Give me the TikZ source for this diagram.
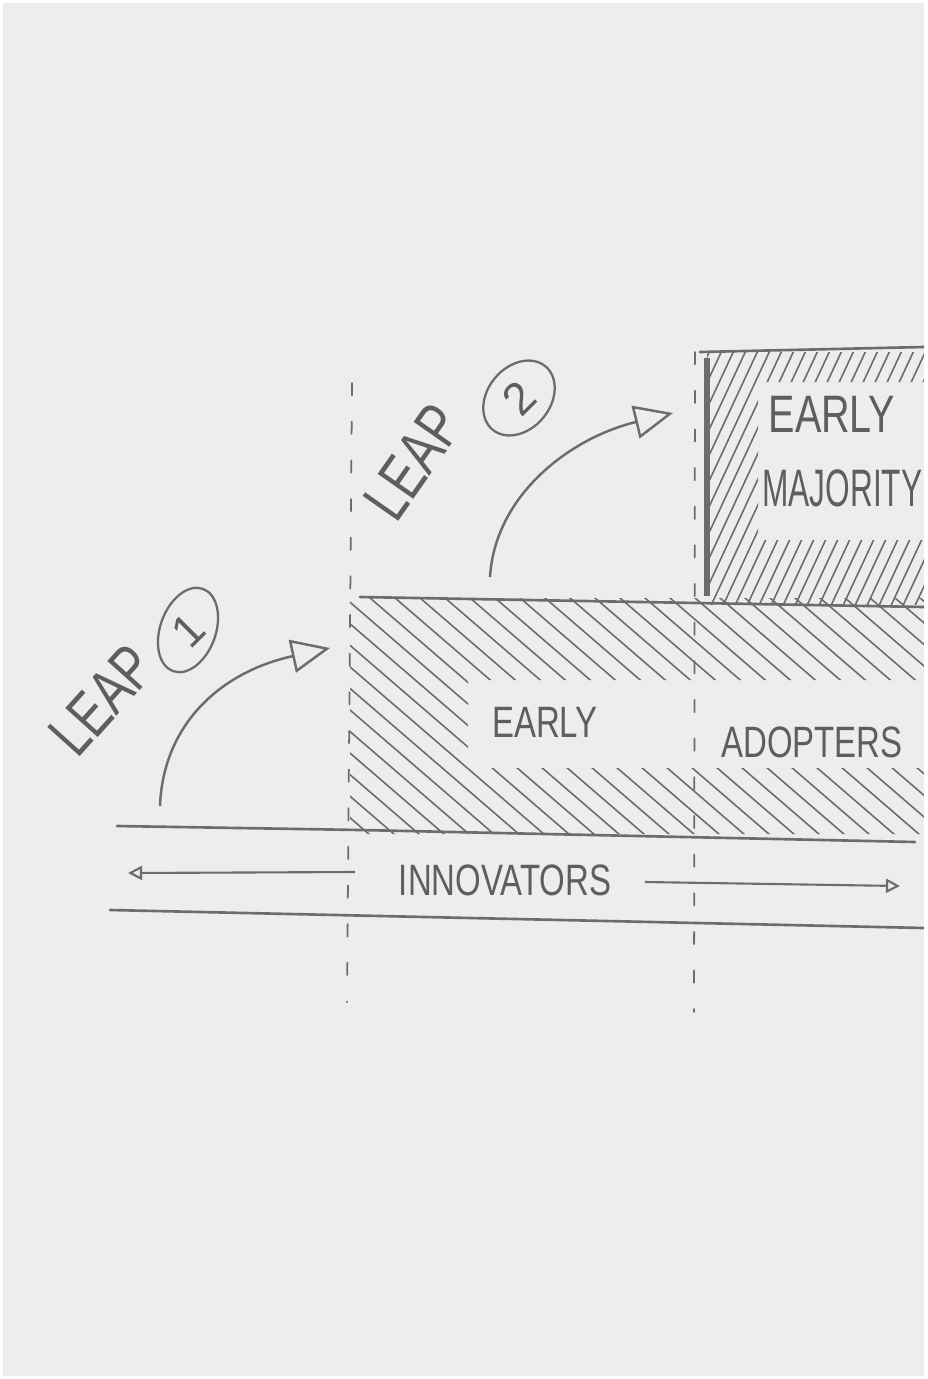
\documentclass[tikz,border=0pt]{standalone}
\usepackage{fontspec}
\setmainfont{Liberation Sans}
\usepackage{graphicx}
\usepackage{tikz}
\usetikzlibrary{arrows.meta,positioning,shapes.geometric}
\definecolor{paper}{HTML}{EDEDED}
\definecolor{pencil}{HTML}{6C6C6C}
\definecolor{ink}{HTML}{5E5E5E}
\newcommand{\hand}[1]{\scalebox{0.75}[1]{#1}}

\begin{document}
\begin{tikzpicture}[
    x=0.02cm, y=-0.02cm,
    line/.style={draw=pencil, line width=1.5pt, line cap=round},
    guide/.style={draw=pencil, line width=1pt, line cap=round, dash pattern=on 7pt off 15pt},
    hatch/.style={draw=pencil, line width=0.9pt, line cap=round},
    leaparr/.style={draw=pencil, line width=1.4pt, -{Triangle[open, length=22pt, width=19pt]}},
    smallarr/.style={draw=pencil, line width=1.2pt, -{Triangle[open, length=8pt, width=8pt]}},
    word/.style={text=ink, inner sep=0pt, font=\fontsize{25}{30}\selectfont},
    bigword/.style={text=ink, inner sep=0pt, font=\fontsize{30}{36}\selectfont},
    leapword/.style={text=ink, inner sep=0pt, font=\fontsize{36}{40}\selectfont},
    ring/.style={draw=pencil, line width=1.3pt, ellipse, inner sep=0pt, text=ink, font=\fontsize{26}{30}\selectfont},
  ]
  \useasboundingbox (0,0) rectangle (927,1379);
  \fill[white] (0,0) rectangle (927,1379);
  \fill[paper] (3,3) rectangle (924,1376);

  \begin{scope}
    \clip (3,3) rectangle (924,1376);

    % hatching of the early adopters band, text area left open
    \begin{scope}
      \clip (350,598) rectangle (924,680) (350,768) rectangle (924,834) (350,598) rectangle (468,834);
      \foreach \i in {-11,...,24}
        \draw[hatch] (330+\i*25,585) -- ++(290,250);
    \end{scope}

    % hatching of the early majority box
    \begin{scope}
      \clip (707,352) rectangle (924,382) (707,540) rectangle (924,605) (707,352) rectangle (758,605);
      \foreach \i in {0,...,29}
        \draw[hatch] (576+\i*12,612) -- ++(125,-268);
    \end{scope}

    % band and scale lines
    \draw[line] (360,597) -- (640,602) -- (924,607);
    \draw[line] (117,826) -- (360,830) -- (915,842);
    \draw[line] (110,910) -- (470,918) -- (924,928);

    % early majority box
    \draw[line] (700,352) -- (924,347);
    \draw[draw=pencil, line width=3pt] (707,358) -- (707,596);

    % dashed dividers
    \coordinate (g1top) at (352,383);
    \coordinate (g1bot) at (347,1002);
    \coordinate (g2top) at (695,352);
    \coordinate (g2bot) at (694,1012);
    \draw[guide] (g1top) -- (g1bot);
    \draw[guide] (g2top) -- (g2bot);

    % texts
    \node[word] (inno) at (505,880) {\hand{INNOVATORS}};
    \node[word] (early) at (545,722) {\hand{EARLY}};
    \node[word] (adopt) at (812,742) {\hand{ADOPTERS}};
    \node[bigword] (earlym) at (832,414) {\hand{EARLY}};
    \node[bigword, anchor=west] (major) at (762,488) {\scalebox{0.6}[1]{MAJORITY}};

    % innovators span
    \coordinate (innL) at (355,872);
    \coordinate (innA) at (128,873);
    \coordinate (innR) at (645,882);
    \coordinate (innB) at (900,886);
    \draw[smallarr] (innL) -- (innA);
    \draw[smallarr] (innR) -- (innB);

    % leap 1
    \node[leapword, rotate=48] (leap1) at (102,700) {\hand{LEAP}};
    \node[ring, rotate=70, minimum width=1.75cm, minimum height=1.05cm] (num1) at (188,630) {\rotatebox{-25}{1}};
    \coordinate (l1s) at (160,806);
    \coordinate (l1e) at (330,648);
    \draw[leaparr] (l1s) .. controls (163,725) and (220,672) .. (l1e);

    % leap 2
    \node[leapword, rotate=55] (leap2) at (413,462) {\hand{LEAP}};
    \node[ring, rotate=50, minimum width=1.65cm, minimum height=1.25cm] (num2) at (519,398) {\rotatebox{-5}{2}};
    \coordinate (l2s) at (490,577);
    \coordinate (l2e) at (673,413);
    \draw[leaparr] (l2s) .. controls (495,495) and (570,438) .. (l2e);
  \end{scope}
\end{tikzpicture}
\end{document}
